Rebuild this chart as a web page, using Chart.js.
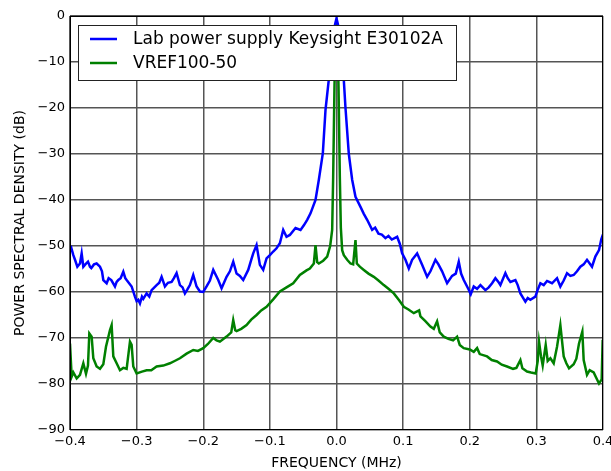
<!DOCTYPE html>
<html>
<head>
<meta charset="utf-8">
<script src="https://cdn.jsdelivr.net/npm/chart.js@4/dist/chart.umd.min.js"></script>
<style>
  html, body { margin: 0; padding: 0; background: #fff; }
  #wrap { width: 611px; height: 471px; position: relative; }
</style>
</head>
<body>
<div id="wrap"><canvas id="psdChart"></canvas></div>
<script>
// Series labels
const labelBlue = 'Lab power supply Keysight E30102A';
const labelGreen = 'VREF100-50';

// Tick values
const xTickValues = [-0.4, -0.3, -0.2, -0.1, 0, 0.1, 0.2, 0.3, 0.4];
const yTickValues = [0, -10, -20, -30, -40, -50, -60, -70, -80, -90];

// Blue trace: frequency (MHz) and PSD (dB)
const freqBlue = [
  -0.4, -0.3985, -0.395, -0.3925, -0.389, -0.385, -0.3825, -0.38, -0.377, -0.373,
  -0.37, -0.368, -0.364, -0.36, -0.355, -0.352, -0.35, -0.345, -0.342, -0.338,
  -0.3325, -0.33, -0.3275, -0.324, -0.32, -0.317, -0.315, -0.3075, -0.3025, -0.3,
  -0.2975, -0.295, -0.292, -0.29, -0.285, -0.281, -0.2775, -0.27, -0.266, -0.2625,
  -0.2575, -0.253, -0.2475, -0.244, -0.24, -0.235, -0.231, -0.2275, -0.224, -0.22,
  -0.215, -0.21, -0.205, -0.2, -0.195, -0.19, -0.185, -0.1775, -0.1725, -0.165,
  -0.16, -0.155, -0.15, -0.145, -0.14, -0.1325, -0.128, -0.125, -0.12, -0.115,
  -0.11, -0.105, -0.1, -0.095, -0.09, -0.085, -0.08, -0.075, -0.07, -0.0615,
  -0.054, -0.049, -0.044, -0.039, -0.0315, -0.0265, -0.0205, -0.0165, -0.0116, -0.008,
  -0.004, 0, 0.004, 0.008, 0.011, 0.0135, 0.0185, 0.0235, 0.0285, 0.036,
  0.041, 0.046, 0.0535, 0.058, 0.063, 0.068, 0.0735, 0.078, 0.083, 0.091,
  0.095, 0.0985, 0.1035, 0.1085, 0.1135, 0.121, 0.1285, 0.136, 0.141, 0.1485,
  0.153, 0.1585, 0.166, 0.1735, 0.179, 0.1835, 0.187, 0.191, 0.1985, 0.2015,
  0.206, 0.211, 0.216, 0.2235, 0.2285, 0.2335, 0.2385, 0.243, 0.246, 0.2535,
  0.257, 0.261, 0.2685, 0.272, 0.276, 0.2835, 0.287, 0.291, 0.2985, 0.302,
  0.306, 0.311, 0.316, 0.3235, 0.331, 0.336, 0.341, 0.346, 0.351, 0.356,
  0.361, 0.366, 0.371, 0.376, 0.3835, 0.3885, 0.394, 0.3975, 0.4
];
const psdBlue = [
  -50.0, -50.2, -52, -53, -54.5, -53.8, -51.6, -54.5, -54, -53.4,
  -54.5, -54.8, -54, -53.8, -54.5, -55.5, -57.4, -58.1, -57, -57.4,
  -58.8, -57.8, -57.4, -57, -55.6, -57, -57.4, -58.8, -61, -62,
  -61.7, -62.5, -61, -61.5, -60.3, -61, -59.6, -58.5, -58, -56.7,
  -58.8, -58, -57.8, -57, -55.9, -58.5, -59, -60.3, -59.5, -58.5,
  -56.3, -58.8, -59.9, -60, -58.8, -57.5, -55.2, -57.4, -59.2, -56.7,
  -55.5, -53.4, -56, -56.5, -57.4, -55.2, -53, -51.6, -49.8, -54.1,
  -55.2, -52.7, -52, -51.2, -50.5, -49.4, -46.5, -48, -47.6, -46.1,
  -46.5, -45.5, -44.3, -42.9, -40, -35.6, -29.8, -20.4, -13.9, -8,
  -3, -0.5, -3, -8, -14, -20, -30, -35.6, -39.3, -41.5,
  -43, -44.3, -46.5, -46, -47.3, -47.5, -48.3, -47.8, -48.6, -48,
  -49.5, -51.6, -53, -54.9, -53, -51.6, -54.1, -56.7, -55.5, -53,
  -54, -55.5, -58.1, -56.5, -56, -53.4, -56, -57.4, -59.5, -60.5,
  -58.8, -59.3, -58.5, -59.6, -59, -58.1, -57, -57.8, -58.5, -55.9,
  -57, -57.8, -57.4, -58.5, -60.3, -62.1, -61.3, -61.7, -61, -59.5,
  -58.1, -58.5, -57.6, -58.1, -57, -58.8, -57.5, -55.9, -56.5, -56.3,
  -55.5, -54.5, -54, -53, -54.5, -52.3, -50.9, -48.5, -47.5
];

// Green trace
const freqGreen = [
  -0.4, -0.3975, -0.395, -0.39, -0.385, -0.38, -0.376, -0.373, -0.371, -0.3675,
  -0.365, -0.36, -0.355, -0.35, -0.346, -0.34, -0.3375, -0.335, -0.33, -0.325,
  -0.32, -0.315, -0.31, -0.3075, -0.305, -0.3, -0.292, -0.285, -0.278, -0.27,
  -0.26, -0.25, -0.243, -0.235, -0.225, -0.215, -0.208, -0.2, -0.193, -0.185,
  -0.18, -0.175, -0.165, -0.158, -0.155, -0.152, -0.15, -0.143, -0.135, -0.128,
  -0.12, -0.113, -0.105, -0.095, -0.085, -0.075, -0.065, -0.055, -0.045, -0.04,
  -0.034, -0.0315, -0.029, -0.0265, -0.02, -0.014, -0.0095, -0.0065, -0.005, -0.003,
  -0.0015, 0, 0.0015, 0.003, 0.005, 0.0065, 0.0085, 0.011, 0.016, 0.021,
  0.025, 0.0285, 0.0305, 0.035, 0.041, 0.048, 0.056, 0.063, 0.071, 0.078,
  0.086, 0.094, 0.101, 0.108, 0.116, 0.124, 0.126, 0.133, 0.141, 0.146,
  0.151, 0.155, 0.161, 0.168, 0.175, 0.181, 0.185, 0.191, 0.2, 0.206,
  0.211, 0.215, 0.226, 0.233, 0.241, 0.248, 0.256, 0.265, 0.27, 0.276,
  0.279, 0.286, 0.292, 0.299, 0.302, 0.304, 0.307, 0.3095, 0.314, 0.317,
  0.321, 0.326, 0.331, 0.336, 0.341, 0.345, 0.349, 0.356, 0.36, 0.364,
  0.369, 0.371, 0.376, 0.38, 0.386, 0.39, 0.394, 0.398, 0.3995
];
const psdGreen = [
  -71.2, -78.4, -77.5, -78.8, -78, -75.5, -77.8, -76, -69, -69.7,
  -74.4, -76.2, -76.7, -75.7, -71.9, -68.3, -67.2, -74, -75.5, -77,
  -76.5, -76.7, -70.8, -71.5, -76.2, -77.7, -77.3, -77, -77, -76.2,
  -76, -75.5, -75, -74.4, -73.4, -72.6, -72.8, -72.2, -71.3, -70,
  -70.5, -70.8, -69.7, -68.8, -66.1, -68.3, -68.5, -68, -67.2, -66,
  -65, -64, -63.2, -61.6, -59.9, -59, -58.1, -56.3, -55.3, -54.9,
  -53.8, -49.8, -53.5, -53.8, -53.2, -52.3, -50, -46.5, -35, -15,
  -5, -1, -5, -15, -35, -46, -50.9, -52, -53, -53.8,
  -54, -48.7, -53.8, -54.5, -55.2, -56, -56.7, -57.5, -58.5, -59.3,
  -60.3, -61.8, -63.2, -63.8, -64.6, -64, -65.3, -66.3, -67.5, -68,
  -66.4, -68.8, -69.7, -70.2, -70.5, -69.7, -71.5, -72.2, -72.5, -73,
  -72.2, -73.5, -74, -74.8, -75.1, -75.8, -76.2, -76.7, -76.5, -74.8,
  -76.6, -77.3, -77.5, -77.7, -75, -70.8, -74, -76, -71.5, -75,
  -74.4, -75.5, -71.9, -67.2, -74, -75.5, -76.6, -75.7, -74.5, -71.2,
  -68.6, -74.8, -78, -77, -77.5, -78.7, -79.9, -79, -70.4
];

const fontFamily = "'DejaVu Sans', sans-serif";

function fmtTick(v, digits) {
  const s = Math.abs(v).toFixed(digits);
  return (v < -1e-9 ? '\u2212' : '') + s;
}

// Legend drawn as a boxed inset in the upper left of the plot
const insetLegend = {
  id: 'insetLegend',
  afterDatasetsDraw(chart) {
    const ctx = chart.ctx;
    const area = chart.chartArea;
    const x0 = area.left + 8, y0 = area.top + 9;
    const w = 378, h = 55;
    ctx.save();
    ctx.fillStyle = '#fff';
    ctx.fillRect(x0, y0, w, h);
    ctx.strokeStyle = '#222';
    ctx.lineWidth = 1;
    ctx.strokeRect(x0 + 0.5, y0 + 0.5, w, h);
    ctx.font = '17px ' + fontFamily;
    ctx.textBaseline = 'middle';
    chart.data.datasets.forEach((ds, i) => {
      const y = y0 + 14 + i * 24;
      ctx.strokeStyle = ds.borderColor;
      ctx.lineWidth = 2.5;
      ctx.beginPath();
      ctx.moveTo(x0 + 12, y);
      ctx.lineTo(x0 + 39, y);
      ctx.stroke();
      ctx.fillStyle = '#000';
      ctx.fillText(ds.label, x0 + 55, y + 1);
    });
    ctx.restore();
  },
  afterDraw(chart) {
    const ctx = chart.ctx;
    const a = chart.chartArea;
    ctx.save();
    ctx.strokeStyle = '#000';
    ctx.lineWidth = 1;
    ctx.strokeRect(a.left + 0.5, a.top + 0.5, a.right - a.left - 1, a.bottom - a.top - 1);
    ctx.restore();
  }
};

const ctx = document.getElementById('psdChart').getContext('2d');
new Chart(ctx, {
  type: 'line',
  data: {
    datasets: [
      {
        label: labelBlue,
        data: freqBlue.map((f, i) => ({ x: f, y: psdBlue[i] })),
        borderColor: '#0000ff',
        borderWidth: 2.5,
        pointRadius: 0,
        tension: 0,
        fill: false
      },
      {
        label: labelGreen,
        data: freqGreen.map((f, i) => ({ x: f, y: psdGreen[i] })),
        borderColor: '#008000',
        borderWidth: 2.5,
        pointRadius: 0,
        tension: 0,
        fill: false
      }
    ]
  },
  options: {
    responsive: true,
    maintainAspectRatio: false,
    animation: false,
    layout: { padding: { top: 16, right: 8, left: 0, bottom: 0 } },
    plugins: {
      legend: { display: false },
      tooltip: { enabled: false }
    },
    scales: {
      x: {
        type: 'linear',
        min: -0.4,
        max: 0.4,
        afterBuildTicks: s => { s.ticks = xTickValues.map(v => ({ value: v })); },
        afterFit: s => { s.height = 41; s.paddingLeft = 0; s.paddingRight = 0; },
        ticks: {
          callback: v => fmtTick(v, 1),
          color: '#000',
          font: { family: fontFamily, size: 13 },
          padding: 4,
          maxRotation: 0
        },
        grid: { color: '#555', lineWidth: 1.5, drawTicks: false },
        border: { display: false },
        title: {
          display: true,
          text: 'FREQUENCY (MHz)',
          color: '#000',
          font: { family: fontFamily, size: 14 },
          padding: { top: 0, bottom: -1 }
        }
      },
      y: {
        type: 'linear',
        min: -90,
        max: 0,
        afterBuildTicks: s => { s.ticks = yTickValues.map(v => ({ value: v })); },
        afterFit: s => { s.width = 70; s.paddingTop = 0; s.paddingBottom = 0; },
        ticks: {
          callback: v => fmtTick(v, 0),
          color: '#000',
          font: { family: fontFamily, size: 13 },
          padding: 5
        },
        grid: { color: '#555', lineWidth: 1.5, drawTicks: false },
        border: { display: false },
        title: {
          display: true,
          text: 'POWER SPECTRAL DENSITY (dB)',
          color: '#000',
          font: { family: fontFamily, size: 14 },
          padding: { top: 12, bottom: 0 }
        }
      }
    }
  },
  plugins: [insetLegend]
});
</script>
</body>
</html>
